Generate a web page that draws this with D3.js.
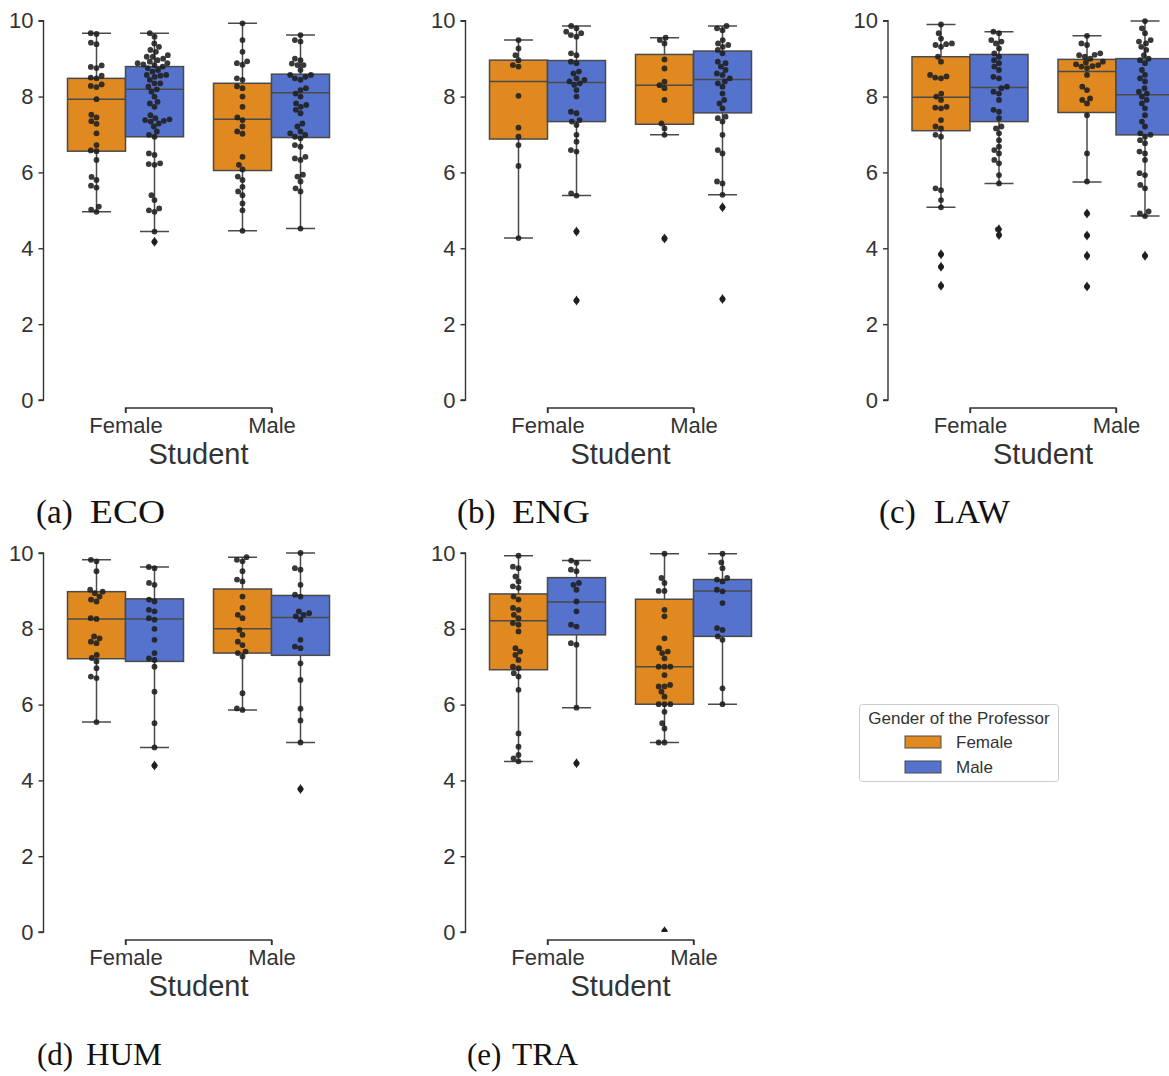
<!DOCTYPE html>
<html><head><meta charset="utf-8">
<script src="https://cdn.jsdelivr.net/npm/d3@7"></script>
<style>body{margin:0;background:#fff}</style>
</head><body>
<svg id="chart" width="1169" height="1076"></svg>
<script>
const studentCats = ["Female", "Male"];
const professorCats = ["Female", "Male"];
const yTickValues = [0, 2, 4, 6, 8, 10];
const panelNames = ["ECO", "ENG", "LAW", "HUM", "TRA"];
const captionLetters = ["(a)", "(b)", "(c)", "(d)", "(e)"];
const legendTitle = "Gender of the Professor";
const xAxisTitle = "Student";

// box stats: [lower whisker, Q1, median, Q3, upper whisker]
// order: (student F, prof F), (student F, prof M), (student M, prof F), (student M, prof M)
const ecoBoxes = [[4.96, 6.56, 7.93, 8.48, 9.67], [4.44, 6.94, 8.19, 8.79, 9.67], [4.46, 6.05, 7.40, 8.35, 9.93], [4.52, 6.92, 8.10, 8.59, 9.62]];
const engBoxes = [[4.27, 6.88, 8.40, 8.96, 9.49], [5.39, 7.34, 8.37, 8.95, 9.86], [6.99, 7.27, 8.30, 9.11, 9.55], [5.41, 7.57, 8.45, 9.20, 9.86]];
const lawBoxes = [[5.08, 7.10, 7.98, 9.05, 9.90], [5.71, 7.34, 8.24, 9.11, 9.71], [5.75, 7.58, 8.66, 8.98, 9.60], [4.85, 6.99, 8.05, 9.00, 9.99]];
const humBoxes = [[5.54, 7.21, 8.26, 8.98, 9.82], [4.87, 7.14, 8.26, 8.79, 9.63], [5.86, 7.36, 8.00, 9.05, 9.89], [5.00, 7.30, 8.30, 8.88, 10.0]];
const traBoxes = [[4.50, 6.92, 8.21, 8.92, 9.93], [5.92, 7.84, 8.71, 9.35, 9.80], [5.00, 6.01, 7.00, 8.78, 9.98], [6.01, 7.80, 9.00, 9.30, 9.98]];

const ecoPoints = [
  [9.67, 9.65, 9.42, 9.38, 8.82, 8.78, 8.75, 8.55, 8.50, 8.48, 8.32, 8.28, 8.25, 7.93, 7.52, 7.45, 7.35, 7.28, 7.03, 6.72, 6.58, 6.56, 6.33, 5.88, 5.80, 5.65, 5.60, 5.10, 5.02, 4.96],
  [9.67, 9.58, 9.40, 9.31, 9.23, 9.18, 9.09, 9.05, 9.05, 9.00, 8.96, 8.92, 8.88, 8.88, 8.85, 8.83, 8.79, 8.75, 8.70, 8.66, 8.57, 8.57, 8.55, 8.52, 8.44, 8.35, 8.35, 8.26, 8.19, 8.13, 8.00, 7.86, 7.82, 7.73, 7.51, 7.43, 7.40, 7.38, 7.36, 7.34, 7.29, 7.21, 7.08, 6.99, 6.94, 6.50, 6.46, 6.24, 6.22, 6.20, 5.40, 5.27, 5.05, 5.00, 4.96, 4.44, 4.17],
  [9.93, 9.49, 9.18, 8.93, 8.88, 8.84, 8.48, 8.44, 8.27, 8.22, 8.00, 7.73, 7.45, 7.38, 7.21, 7.08, 7.02, 6.41, 6.20, 6.08, 5.89, 5.80, 5.62, 5.50, 5.40, 5.18, 5.00, 4.46],
  [9.62, 9.49, 9.45, 9.00, 8.96, 8.87, 8.83, 8.83, 8.70, 8.57, 8.57, 8.52, 8.48, 8.44, 8.22, 8.17, 8.08, 8.00, 7.82, 7.78, 7.73, 7.65, 7.56, 7.29, 7.21, 7.08, 7.03, 6.99, 6.94, 6.90, 6.72, 6.68, 6.41, 6.37, 6.33, 5.94, 5.89, 5.76, 5.58, 5.50, 4.52]
];
const engPoints = [
  [9.49, 9.27, 9.09, 8.96, 8.83, 8.79, 8.02, 7.18, 6.94, 6.72, 6.17, 4.27],
  [9.86, 9.80, 9.71, 9.67, 9.62, 9.58, 9.14, 9.09, 8.92, 8.88, 8.66, 8.61, 8.48, 8.44, 8.40, 8.35, 8.31, 8.17, 8.00, 7.60, 7.56, 7.38, 7.34, 7.25, 6.99, 6.81, 6.59, 6.55, 5.45, 5.39, 4.44, 2.62],
  [9.55, 9.49, 9.40, 8.98, 8.74, 8.39, 8.30, 8.22, 7.91, 7.29, 7.16, 6.99, 4.26],
  [9.86, 9.80, 9.75, 9.49, 9.40, 9.36, 9.31, 9.23, 9.14, 8.92, 8.88, 8.79, 8.70, 8.61, 8.57, 8.48, 8.40, 8.35, 8.26, 8.08, 7.91, 7.82, 7.69, 7.47, 7.43, 7.34, 6.99, 6.59, 6.50, 5.76, 5.71, 5.41, 5.08, 2.66]
];
const lawPoints = [
  [9.90, 9.67, 9.53, 9.40, 9.38, 9.36, 9.31, 9.05, 8.92, 8.57, 8.53, 8.50, 8.48, 8.08, 8.00, 7.91, 7.73, 7.71, 7.69, 7.38, 7.21, 7.16, 6.99, 6.94, 5.58, 5.53, 5.27, 5.08, 3.84, 3.51, 3.01],
  [9.71, 9.67, 9.49, 9.45, 9.40, 9.27, 9.14, 9.05, 8.96, 8.88, 8.79, 8.70, 8.52, 8.48, 8.26, 8.22, 8.13, 8.08, 7.91, 7.65, 7.60, 7.43, 7.21, 7.16, 7.03, 6.85, 6.68, 6.59, 6.50, 6.33, 6.24, 5.93, 5.71, 4.50, 4.35],
  [9.60, 9.40, 9.36, 9.14, 9.10, 9.09, 9.05, 9.00, 8.92, 8.90, 8.85, 8.83, 8.80, 8.79, 8.75, 8.57, 8.26, 8.17, 7.95, 7.91, 7.82, 7.51, 6.50, 5.76, 4.92, 4.34, 3.80, 2.99],
  [9.99, 9.80, 9.67, 9.49, 9.45, 9.40, 9.31, 9.23, 9.09, 9.00, 8.96, 8.88, 8.70, 8.57, 8.48, 8.40, 8.22, 8.13, 8.08, 8.00, 7.91, 7.82, 7.69, 7.51, 7.34, 7.21, 7.03, 6.99, 6.94, 6.85, 6.77, 6.55, 6.50, 6.33, 5.98, 5.93, 5.67, 5.58, 4.97, 4.92, 4.85, 3.80]
];
const humPoints = [
  [9.82, 9.78, 9.52, 9.03, 8.98, 8.94, 8.85, 8.77, 8.72, 8.28, 8.26, 7.80, 7.75, 7.66, 7.62, 7.31, 7.23, 7.14, 6.96, 6.74, 6.70, 5.54],
  [9.63, 9.60, 9.21, 9.16, 8.77, 8.72, 8.50, 8.46, 8.28, 8.24, 8.00, 7.71, 7.36, 7.22, 7.18, 7.00, 6.34, 5.51, 4.87, 4.39],
  [9.89, 9.82, 9.78, 9.52, 9.30, 9.25, 8.85, 8.55, 8.37, 8.28, 7.97, 7.84, 7.66, 7.57, 7.40, 7.36, 7.27, 6.30, 5.90, 5.86],
  [10.0, 9.60, 9.56, 9.16, 8.90, 8.85, 8.46, 8.41, 8.37, 8.33, 8.24, 7.71, 7.53, 7.49, 7.09, 6.65, 5.89, 5.58, 5.00, 3.77]
];
const traPoints = [
  [9.93, 9.64, 9.60, 9.38, 9.25, 9.12, 9.08, 8.85, 8.77, 8.55, 8.50, 8.37, 8.28, 8.15, 8.11, 7.93, 7.49, 7.40, 7.31, 7.18, 7.00, 6.96, 6.83, 6.74, 6.39, 5.24, 4.89, 4.67, 4.58, 4.50],
  [9.80, 9.74, 9.56, 9.52, 9.21, 9.16, 9.03, 8.72, 8.46, 8.11, 8.06, 7.62, 7.58, 5.92, 4.45],
  [9.98, 9.34, 9.21, 9.00, 9.00, 8.50, 8.33, 7.75, 7.49, 7.40, 7.36, 7.22, 7.00, 7.00, 7.00, 6.78, 6.52, 6.48, 6.48, 6.34, 6.21, 6.01, 6.01, 6.01, 5.81, 5.51, 5.37, 5.00, 5.00, 0.02],
  [9.98, 9.75, 9.60, 9.34, 9.30, 9.25, 9.03, 8.99, 8.68, 8.02, 7.97, 7.80, 7.71, 6.43, 6.01]
];

const boxesByPanel = [ecoBoxes, engBoxes, lawBoxes, humBoxes, traBoxes];
const pointsByPanel = [ecoPoints, engPoints, lawPoints, humPoints, traPoints];

// ---------- styling / layout ----------
const orange = "#DF8920", blue = "#5573CD";
const edge = "#4a4a4a", ink = "#333333";
const colorScale = d3.scaleOrdinal().domain(professorCats).range([orange, blue]);
const fontSans = "'Liberation Sans', Arial, Helvetica, sans-serif";
const fontSerif = "'Liberation Serif', 'Times New Roman', serif";

const panelLayout = [
  {x: 43.5, top: 20.7, bottom: 400, cap: {x: 36, nx: 90, nw: 75, y: 523, size: 33}},
  {x: 465.5, top: 20.7, bottom: 400, cap: {x: 457, nx: 512, nw: 78, y: 523, size: 33}},
  {x: 888, top: 20.7, bottom: 400, cap: {x: 879, nx: 934, nw: 76, y: 523, size: 33}},
  {x: 43.5, top: 553, bottom: 932, cap: {x: 37, nx: 86, nw: 76, y: 1065, size: 31}},
  {x: 465.5, top: 553, bottom: 932, cap: {x: 467, nx: 512, nw: 66, y: 1065, size: 31}}
];

const svg = d3.select("#chart");
const defs = svg.append("defs");

function swarm(values, y, r) {
  const idx = values.map((v, i) => i).sort((a, b) => values[a] - values[b]);
  const placed = [];
  const out = new Array(values.length);
  const d = 2 * r;
  idx.forEach(i => {
    const py = y(values[i]);
    const cands = [0];
    placed.forEach(p => {
      const dy = py - p.y;
      if (Math.abs(dy) < d) {
        const dx = Math.sqrt(d * d - dy * dy);
        cands.push(p.x + dx, p.x - dx);
      }
    });
    cands.sort((a, b) => Math.abs(a) - Math.abs(b) || a - b);
    let px = 0;
    for (const c of cands) {
      let ok = true;
      for (const p of placed) {
        const dx = c - p.x, dy = py - p.y;
        if (dx * dx + dy * dy < d * d - 0.01) { ok = false; break; }
      }
      if (ok) { px = c; break; }
    }
    placed.push({x: px, y: py});
    out[i] = {x: px, y: py, v: values[i]};
  });
  return out;
}

panelLayout.forEach((L, pi) => {
  const g = svg.append("g").attr("transform", `translate(${L.x},0)`);
  const y = d3.scaleLinear().domain([0, 10]).range([L.bottom, L.top]);
  const xs = d3.scalePoint().domain(studentCats).range([82, 228]);
  const xh = d3.scaleBand().domain(professorCats).range([-58, 58]).paddingInner(0).paddingOuter(0);
  const bw = xh.bandwidth();

  const clipId = "clip" + pi;
  defs.append("clipPath").attr("id", clipId).append("rect")
    .attr("x", L.x - 10).attr("y", L.top - 20).attr("width", 420).attr("height", L.bottom - L.top + 20);

  const yAxis = d3.axisLeft(y).tickValues(yTickValues).tickSize(5).tickPadding(5).tickFormat(d3.format("d"));
  const ya = g.append("g").call(yAxis);
  ya.select(".domain").attr("stroke", ink).attr("stroke-width", 1.4).attr("d", `M-5,${L.bottom}H0V${L.top}H-5`);
  ya.selectAll(".tick line").attr("stroke", ink).attr("stroke-width", 1.4);
  ya.selectAll(".tick text").attr("fill", ink).style("font-family", fontSans).style("font-size", "22px");

  const xAxis = d3.axisBottom(xs).tickSize(5).tickPadding(4).tickSizeOuter(0);
  const xa = g.append("g").attr("transform", `translate(0,${L.bottom + 8})`).call(xAxis);
  xa.select(".domain").attr("stroke", ink).attr("stroke-width", 1.4)
    .attr("d", `M${xs("Female")},5V0H${xs("Male")}V5`);
  xa.selectAll(".tick line").attr("stroke", ink).attr("stroke-width", 1.4);
  xa.selectAll(".tick text").attr("fill", ink).style("font-family", fontSans).style("font-size", "22px");

  g.append("text").attr("x", (xs("Female") + xs("Male")) / 2).attr("y", L.bottom + 64)
    .attr("text-anchor", "middle").attr("fill", ink)
    .style("font-family", fontSans).style("font-size", "29px").text(xAxisTitle);

  const plot = svg.append("g").attr("clip-path", `url(#${clipId})`)
    .append("g").attr("transform", `translate(${L.x},0)`);

  const boxes = boxesByPanel[pi];
  const pts = pointsByPanel[pi];
  let k = 0;
  studentCats.forEach(s => {
    professorCats.forEach(p => {
      const b = boxes[k], vals = pts[k];
      k++;
      const cx = xs(s) + xh(p) + bw / 2;
      const x0 = xs(s) + xh(p);
      const bg = plot.append("g");
      bg.append("line").attr("x1", cx).attr("x2", cx).attr("y1", y(b[0])).attr("y2", y(b[1]))
        .attr("stroke", edge).attr("stroke-width", 1.5);
      bg.append("line").attr("x1", cx).attr("x2", cx).attr("y1", y(b[3])).attr("y2", y(b[4]))
        .attr("stroke", edge).attr("stroke-width", 1.5);
      [b[0], b[4]].forEach(w => {
        bg.append("line").attr("x1", cx - bw / 4).attr("x2", cx + bw / 4).attr("y1", y(w)).attr("y2", y(w))
          .attr("stroke", edge).attr("stroke-width", 1.5);
      });
      bg.append("rect").attr("x", x0).attr("width", bw).attr("y", y(b[3])).attr("height", y(b[1]) - y(b[3]))
        .attr("fill", colorScale(p)).attr("stroke", edge).attr("stroke-width", 1.5);
      bg.append("line").attr("x1", x0).attr("x2", x0 + bw).attr("y1", y(b[2])).attr("y2", y(b[2]))
        .attr("stroke", edge).attr("stroke-width", 1.5);
      vals.filter(v => v < b[0] - 0.005 || v > b[4] + 0.005).forEach(v => {
        bg.append("path").attr("d", "M0,-5L3.2,0L0,5L-3.2,0Z")
          .attr("transform", `translate(${cx},${y(v)})`).attr("fill", "#2a2a2a");
      });
      const sw = swarm(vals, y, 2.9);
      bg.selectAll("circle.pt").data(sw).join("circle").attr("class", "pt")
        .attr("cx", d => cx + d.x).attr("cy", d => d.y).attr("r", 2.9)
        .attr("fill", "#1e1e1e").attr("fill-opacity", 0.88);
    });
  });

  svg.append("text").attr("x", L.cap.x).attr("y", L.cap.y)
    .attr("fill", "#111").style("font-family", fontSerif).style("font-size", L.cap.size + "px")
    .text(captionLetters[pi]);
  svg.append("text").attr("x", L.cap.nx).attr("y", L.cap.y)
    .attr("textLength", L.cap.nw).attr("lengthAdjust", "spacingAndGlyphs")
    .attr("fill", "#111").style("font-family", fontSerif).style("font-size", L.cap.size + "px")
    .text(panelNames[pi]);
});

// legend
const lg = svg.append("g");
lg.append("rect").attr("x", 859.5).attr("y", 704.5).attr("width", 199).attr("height", 77).attr("rx", 3)
  .attr("fill", "#fff").attr("stroke", "#cccccc").attr("stroke-width", 1);
lg.append("text").attr("x", 959).attr("y", 724).attr("text-anchor", "middle").attr("fill", ink)
  .style("font-family", fontSans).style("font-size", "17px").text(legendTitle);
professorCats.forEach((p, i) => {
  const yy = 736 + i * 25;
  lg.append("rect").attr("x", 905).attr("y", yy).attr("width", 36).attr("height", 12)
    .attr("fill", colorScale(p)).attr("stroke", edge).attr("stroke-width", 1);
  lg.append("text").attr("x", 956).attr("y", yy + 12).attr("fill", ink)
    .style("font-family", fontSans).style("font-size", "17px").text(p);
});
</script>
</body></html>
